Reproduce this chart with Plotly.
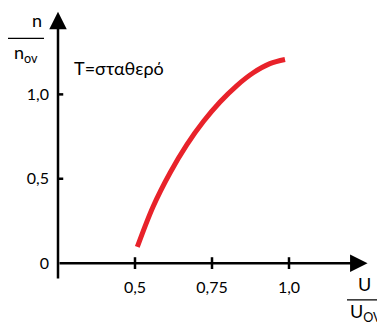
import plotly.graph_objects as go

# data
u_ratio = [0.5075, 0.559, 0.614, 0.668, 0.722, 0.776, 0.830, 0.884, 0.938, 0.987]
n_ratio = [0.096, 0.336, 0.536, 0.701, 0.839, 0.955, 1.051, 1.128, 1.182, 1.207]
x_ticks = [0.5, 0.75, 1.0]
x_tick_labels = ["0,5", "0,75", "1,0"]
y_ticks = [0, 0.5, 1.0]
y_tick_labels = ["0", "0,5", "1,0"]

X0, X1 = 0.25, 1.25
Y0, Y1 = -0.1, 1.5
OFF = 8  # default page body margin
W, H = 385 - OFF, 322 - OFF
ML, MR, MT, MB = 58 - OFF, 19, 9.5 - OFF, 42
PW = W - ML - MR
PH = H - MT - MB

FONT = "Lato"


def px_to_paper(px, py):
    return (px - OFF - ML) / PW, (H - MB - (py - OFF)) / PH


fig = go.Figure()
fig.add_trace(go.Scatter(
    x=u_ratio, y=n_ratio, mode="lines",
    line=dict(color="#e8222a", width=5, shape="spline", smoothing=1.0),
    hoverinfo="skip", showlegend=False, cliponaxis=False,
))

shapes = []
for xv in x_ticks:
    shapes.append(dict(type="line", xref="x", yref="y", x0=xv, x1=xv, y0=-0.035, y1=0.035,
                       line=dict(color="black", width=2.5)))
for yv in y_ticks[1:]:
    shapes.append(dict(type="line", xref="x", yref="y", x0=X0 - 0.017, x1=X0 + 0.017, y0=yv, y1=yv,
                       line=dict(color="black", width=2.5)))
# fraction bars
a = px_to_paper(8, 38); b = px_to_paper(44, 38)
shapes.append(dict(type="line", xref="paper", yref="paper", x0=a[0], x1=b[0], y0=a[1], y1=b[1],
                   line=dict(color="black", width=1.2)))
a = px_to_paper(347, 300); b = px_to_paper(386, 300)
shapes.append(dict(type="line", xref="paper", yref="paper", x0=a[0], x1=b[0], y0=a[1], y1=b[1],
                   line=dict(color="black", width=1.2)))

annotations = [
    # axes with arrows
    dict(x=X0, y=1.49, ax=X0, ay=Y0, xref="x", yref="y", axref="x", ayref="y", text="",
         showarrow=True, arrowhead=2, arrowsize=1.4, arrowwidth=2.5, arrowcolor="black"),
    dict(x=1.255, y=0, ax=X0, ay=0, xref="x", yref="y", axref="x", ayref="y", text="",
         showarrow=True, arrowhead=2, arrowsize=1.4, arrowwidth=2.5, arrowcolor="black"),
]


def text_at(px, py, txt, size, xanchor="center"):
    p = px_to_paper(px, py)
    annotations.append(dict(x=p[0], y=p[1], xref="paper", yref="paper", text=txt, showarrow=False,
                            xanchor=xanchor, yanchor="middle",
                            font=dict(family=FONT, size=size, color="black")))


text_at(37, 20, "n", 18)
text_at(26, 53, "n<sub>ov</sub>", 18)
text_at(72, 68, "T=σταθερό", 18, xanchor="left")
text_at(364, 284, "U", 18)
text_at(366, 313, "U<sub>OV</sub>", 18)

fig.update_layout(
    width=W, height=H,
    margin=dict(l=ML, r=MR, t=MT, b=MB, autoexpand=False),
    paper_bgcolor="white", plot_bgcolor="white",
    shapes=shapes, annotations=annotations,
    xaxis=dict(range=[X0, X1], showgrid=False, zeroline=False, showline=False, automargin=False,
               tickvals=x_ticks, ticktext=x_tick_labels, ticks="", ticklabelstandoff=-4,
               tickfont=dict(family=FONT, size=16, color="black")),
    yaxis=dict(range=[Y0, Y1], showgrid=False, zeroline=False, showline=False, automargin=False,
               tickvals=y_ticks, ticktext=y_tick_labels, ticks="", ticklabelstandoff=8,
               tickfont=dict(family=FONT, size=16, color="black")),
)

fig.write_html("out.html")
